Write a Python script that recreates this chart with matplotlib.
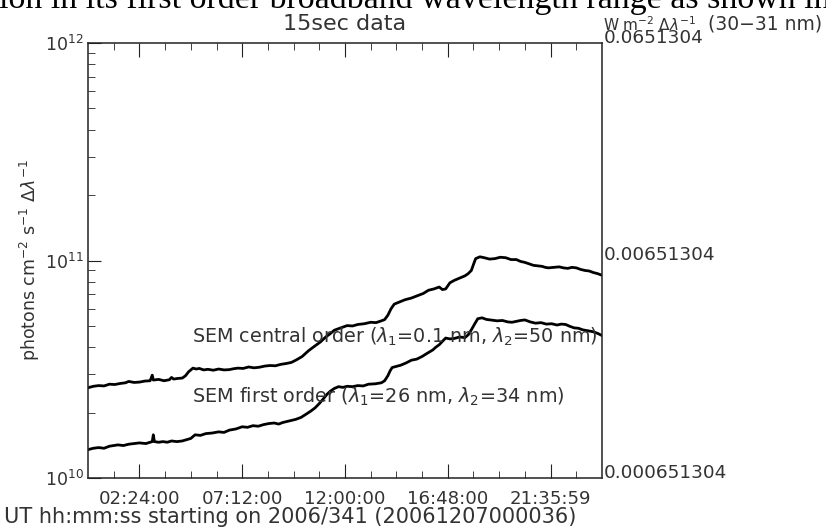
import numpy as np
import matplotlib
matplotlib.use("Agg")
import matplotlib.pyplot as plt
from matplotlib.ticker import FixedLocator, NullFormatter, LogLocator

# (hours since start, photons cm^-2 s^-1 in units of 1e10)
central_pts = [
    (0.0, 2.60), (0.25, 2.64), (0.5, 2.66), (0.75, 2.65), (1.0, 2.70), (1.25, 2.69),
    (1.5, 2.72), (1.75, 2.74), (1.9, 2.78), (2.15, 2.75), (2.4, 2.76), (2.65, 2.79),
    (2.9, 2.80), (3.0, 2.97), (3.05, 2.82), (3.3, 2.84), (3.55, 2.80), (3.8, 2.83),
    (3.9, 2.90), (4.0, 2.85), (4.2, 2.87), (4.4, 2.88), (4.55, 2.95), (4.7, 3.08),
    (4.9, 3.20), (5.05, 3.17), (5.2, 3.19), (5.4, 3.14), (5.6, 3.16), (5.85, 3.13),
    (6.1, 3.17), (6.35, 3.14), (6.6, 3.15), (6.8, 3.18), (7.0, 3.20), (7.25, 3.19),
    (7.5, 3.24), (7.75, 3.21), (8.0, 3.23), (8.25, 3.27), (8.5, 3.29), (8.75, 3.28),
    (9.0, 3.33), (9.25, 3.36), (9.5, 3.40), (9.75, 3.50), (10.0, 3.62), (10.3, 3.85),
    (10.6, 4.05), (10.85, 4.22), (11.1, 4.45), (11.3, 4.60), (11.5, 4.78), (11.8, 4.90),
    (12.1, 5.02), (12.35, 5.00), (12.6, 5.08), (12.9, 5.12), (13.2, 5.20), (13.45, 5.18),
    (13.7, 5.28), (13.85, 5.35), (14.0, 5.60), (14.15, 6.00), (14.3, 6.30), (14.55, 6.45),
    (14.8, 6.60), (15.1, 6.72), (15.4, 6.90), (15.65, 7.05), (15.9, 7.30), (16.15, 7.40),
    (16.4, 7.55), (16.55, 7.35), (16.7, 7.40), (16.9, 7.90), (17.1, 8.10), (17.35, 8.30),
    (17.6, 8.50), (17.75, 8.70), (17.9, 9.00), (18.0, 9.60), (18.1, 10.2), (18.3, 10.4),
    (18.5, 10.3), (18.75, 10.15), (19.0, 10.2), (19.25, 10.35), (19.5, 10.3), (19.75, 10.1),
    (20.0, 10.1), (20.2, 9.9), (20.4, 9.8), (20.6, 9.65), (20.8, 9.5), (21.0, 9.45),
    (21.2, 9.4), (21.35, 9.3), (21.5, 9.25), (21.75, 9.30), (22.0, 9.35), (22.2, 9.25),
    (22.4, 9.2), (22.6, 9.3), (22.8, 9.25), (23.0, 9.1), (23.2, 9.0), (23.4, 8.95),
    (23.6, 8.8), (23.8, 8.7), (24.0, 8.55),
]

first_pts = [
    (0.0, 1.35), (0.25, 1.37), (0.5, 1.38), (0.75, 1.37), (1.0, 1.40), (1.2, 1.41),
    (1.4, 1.42), (1.65, 1.41), (1.9, 1.43), (2.15, 1.44), (2.4, 1.45), (2.7, 1.44),
    (3.0, 1.47), (3.05, 1.58), (3.1, 1.47), (3.3, 1.46), (3.5, 1.47), (3.7, 1.46),
    (3.9, 1.48), (4.15, 1.47), (4.4, 1.48), (4.6, 1.50), (4.8, 1.52), (5.0, 1.58),
    (5.25, 1.57), (5.5, 1.60), (5.8, 1.61), (6.1, 1.63), (6.35, 1.62), (6.6, 1.66),
    (6.9, 1.68), (7.2, 1.72), (7.45, 1.71), (7.7, 1.74), (7.95, 1.73), (8.2, 1.76),
    (8.45, 1.78), (8.7, 1.79), (8.9, 1.77), (9.1, 1.80), (9.4, 1.83), (9.7, 1.86),
    (9.95, 1.90), (10.2, 1.97), (10.4, 2.03), (10.6, 2.10), (10.8, 2.20), (11.0, 2.32),
    (11.15, 2.42), (11.3, 2.50), (11.5, 2.58), (11.7, 2.63), (11.9, 2.61), (12.1, 2.64),
    (12.35, 2.63), (12.6, 2.66), (12.85, 2.65), (13.1, 2.70), (13.4, 2.71), (13.7, 2.74),
    (13.85, 2.80), (14.0, 2.95), (14.1, 3.10), (14.2, 3.22), (14.4, 3.26), (14.6, 3.30),
    (14.85, 3.38), (15.1, 3.48), (15.35, 3.52), (15.6, 3.62), (15.85, 3.75), (16.1, 3.88),
    (16.25, 4.00), (16.4, 4.10), (16.55, 4.25), (16.7, 4.40), (16.9, 4.36), (17.1, 4.38),
    (17.35, 4.45), (17.6, 4.42), (17.75, 4.55), (17.9, 4.80), (18.05, 5.10), (18.2, 5.40),
    (18.4, 5.45), (18.6, 5.36), (18.85, 5.32), (19.1, 5.28), (19.35, 5.30), (19.6, 5.22),
    (19.8, 5.20), (20.0, 5.25), (20.2, 5.30), (20.4, 5.33), (20.65, 5.22), (20.9, 5.15),
    (21.15, 5.18), (21.4, 5.10), (21.65, 5.12), (21.9, 5.05), (22.1, 5.10), (22.3, 5.08),
    (22.5, 4.98), (22.7, 4.90), (22.9, 4.88), (23.1, 4.80), (23.35, 4.75), (23.6, 4.70),
    (23.8, 4.62), (24.0, 4.52),
]

xtick_pos = [2.4, 7.2, 12.0, 16.8, 21.6]
xtick_lab = ["02:24:00", "07:12:00", "12:00:00", "16:48:00", "21:35:59"]
right_vals = [0.000651304, 0.00651304, 0.0651304]
right_labs = ["0.000651304", "0.00651304", "0.0651304"]

txt = "#333333"
plt.rcParams['font.family'] = ['DejaVu Sans']

W, H = 826, 529
fig = plt.figure(figsize=(W/100, H/100), dpi=100)
ax = fig.add_axes([88/W, 51/H, 514/W, 435/H])

tc, vc = zip(*central_pts)
tf, vf = zip(*first_pts)
ax.plot(tc, np.array(vc)*1e10, color="black", lw=2.0)
ax.plot(tf, np.array(vf)*1e10, color="black", lw=2.0)

ax.set_yscale("log")
ax.set_ylim(1e10, 1e12)
ax.set_xlim(0, 24)

ax.set_xticks(xtick_pos)
ax.set_xticklabels(xtick_lab)
minor = [m for m in np.arange(1.2, 24, 1.2) if all(abs(m-p) > 0.01 for p in xtick_pos)]
ax.xaxis.set_minor_locator(FixedLocator(minor))
ax.yaxis.set_minor_locator(LogLocator(base=10, subs=np.arange(2, 10)))
ax.yaxis.set_minor_formatter(NullFormatter())

ax.tick_params(which="both", direction="in", top=True, right=True, colors="#222222",
               labelcolor=txt, labelsize=12.5)
ax.tick_params(axis="x", which="major", length=10, pad=9, labelsize=13.1)
ax.tick_params(axis="x", which="minor", length=5)
ax.tick_params(axis="y", which="major", length=9, pad=3)
ax.tick_params(axis="y", which="minor", length=5)
for s in ax.spines.values():
    s.set_color("#222222")
    s.set_linewidth(1.1)

ax2 = ax.twinx()
ax2.set_yscale("log")
ax2.set_ylim(right_vals[0], right_vals[-1])
ax2.yaxis.set_major_locator(FixedLocator(right_vals))
ax2.set_yticklabels(right_labs)
ax2.yaxis.set_minor_locator(FixedLocator([]))
ax2.tick_params(length=0, pad=1, labelsize=13.3, labelcolor=txt)
for lbl in ax2.get_yticklabels():
    lbl.set_va("baseline")
for s in ax2.spines.values():
    s.set_visible(False)

ax.set_title("15sec data", fontsize=16, color=txt, pad=9)
ax.set_ylabel(r"photons cm$^{-2}$ s$^{-1}$ $\Delta\lambda^{-1}$", fontsize=12.5, color=txt, labelpad=2)
fig.text(290/W, 1-517/H, "UT hh:mm:ss starting on 2006/341 (20061207000036)",
         ha="center", va="center", fontsize=15, color=txt)

fig.text(192/W, 1-337/H, r"SEM central order ($\lambda_1$=0.1 nm, $\lambda_2$=50 nm)",
         fontsize=13.8, color=txt, va="center", ha="left")
fig.text(192/W, 1-397/H, r"SEM first order ($\lambda_1$=26 nm, $\lambda_2$=34 nm)",
         fontsize=13.9, color=txt, va="center", ha="left")

fig.text(603/W, 1-25/H, r"W m$^{-2}$ $\Delta\lambda^{-1}$", fontsize=11, color=txt,
         ha="left", va="center")
fig.text(708/W, 1-24/H, "(30\u221231 nm)", fontsize=13.5, color=txt, ha="left", va="center")

fig.text(-1/W, 1-8/H, "ion in its first order broadband wavelength range as shown in",
         fontsize=24.5, family="Liberation Serif", color="black", ha="left", va="baseline")

fig.savefig("out.png", dpi=100)
